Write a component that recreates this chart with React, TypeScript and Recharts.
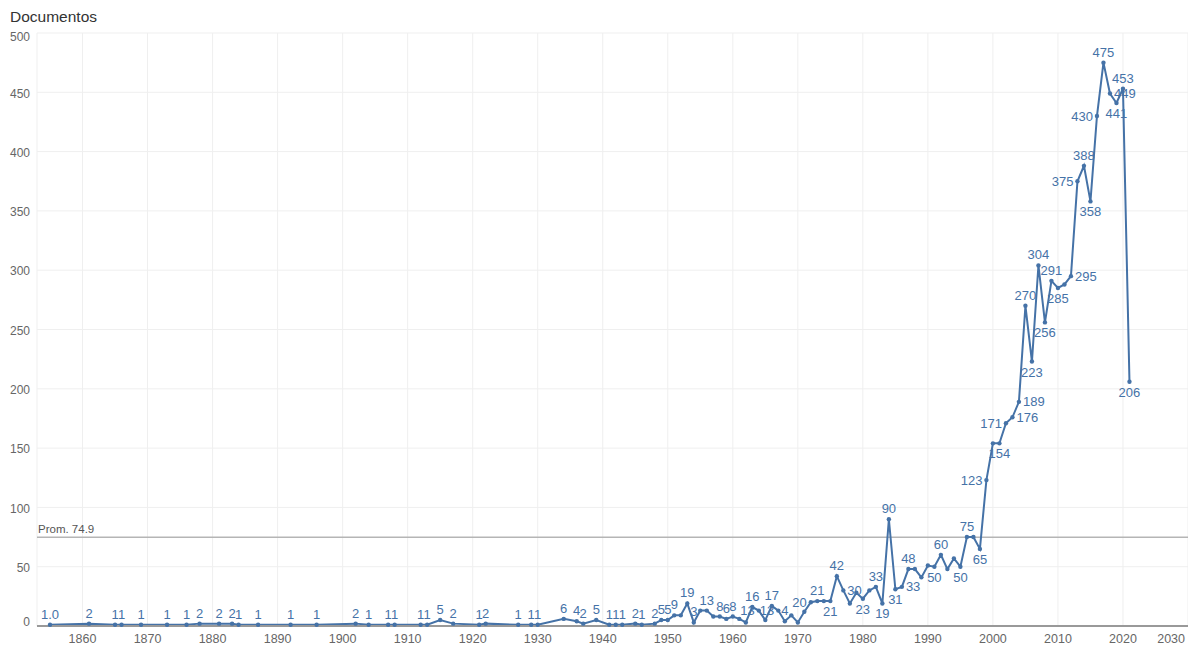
import React from 'react';
import { LineChart, Line, XAxis, YAxis, CartesianGrid, ReferenceLine } from 'recharts';

// ---- data ----
const years = [
  1855, 1861, 1865, 1866, 1869, 1873, 1876, 1878, 1881, 1883, 1884, 1887, 1892, 1896,
  1902, 1904, 1907, 1908, 1912, 1913, 1915, 1917, 1921, 1922, 1927, 1929, 1930, 1934,
  1936, 1937, 1939, 1941, 1942, 1943, 1945, 1946, 1948, 1949,
  1950, 1951, 1952, 1953, 1954, 1955, 1956, 1957, 1958, 1959,
  1960, 1961, 1962, 1963, 1964, 1965, 1966, 1967, 1968, 1969,
  1970, 1971, 1972, 1973, 1974, 1975, 1976, 1977, 1978, 1979,
  1980, 1981, 1982, 1983, 1984, 1985, 1986, 1987, 1988, 1989,
  1990, 1991, 1992, 1993, 1994, 1995, 1996, 1997, 1998, 1999,
  2000, 2001, 2002, 2003, 2004, 2005, 2006, 2007, 2008, 2009,
  2010, 2011, 2012, 2013, 2014, 2015, 2016, 2017, 2018, 2019,
  2020, 2021,
];
const documentos = [
  1, 2, 1, 1, 1, 1, 1, 2, 2, 2, 1, 1, 1, 1,
  2, 1, 1, 1, 1, 1, 5, 2, 1, 2, 1, 1, 1, 6,
  4, 2, 5, 1, 1, 1, 2, 1, 2, 5,
  5, 9, 9, 19, 3, 13, 13, 8, 8, 6,
  8, 6, 3, 16, 13, 5, 17, 13, 4, 9,
  3, 12, 20, 21, 21, 21, 42, 30, 19, 28,
  23, 30, 33, 19, 90, 31, 33, 48, 48, 41,
  51, 50, 60, 48, 57, 50, 75, 75, 65, 123,
  154, 154, 171, 176, 189, 270, 223, 304, 256, 291,
  285, 288, 295, 375, 388, 358, 430, 475, 449, 441,
  453, 206,
];
const xTicks = [1860, 1870, 1880, 1890, 1900, 1910, 1920, 1930, 1940, 1950, 1960, 1970, 1980, 1990, 2000, 2010, 2020, 2030];
const yTicks = [0, 50, 100, 150, 200, 250, 300, 350, 400, 450, 500];
const promedio = 74.9;
const yTitle = 'Documentos';
const promPrefix = 'Prom.';

const data = years.map((year, i) => ({ year, docs: documentos[i] }));

// ---- layout / style ----
const W = 1188;
const H = 648;
const MARGIN = { top: 33, right: 0, bottom: 0, left: 0 };
const YAXIS_W = 37;
const XAXIS_H = 22;
const PLOT_BOTTOM = H - MARGIN.bottom - XAXIS_H;
const LINE_COLOR = '#4572A7';
const FONT = '"Liberation Sans", Arial, Helvetica, sans-serif';
const LABEL_SIZE = 13;
const CHAR_W = 7.2;

type Box = { x0: number; x1: number; y0: number; y1: number };

function placeLabel(points: any[], i: number) {
  const p = points[i];
  const v = documentos[i];
  const prev = i > 0 ? documentos[i - 1] : undefined;
  const next = i < documentos.length - 1 ? documentos[i + 1] : undefined;
  const text = i === 0 ? v.toFixed(1) : String(v);
  const w = text.length * CHAR_W - (text.includes('.') ? 3 : 0) - 1;
  const isMax = (prev === undefined || v >= prev) && (next === undefined || v >= next);
  const isMin = (prev === undefined || v <= prev) && (next === undefined || v <= next);
  let pos: 'above' | 'below' | 'left' | 'right' = 'above';
  const nearBase = p.y + 12 > PLOT_BOTTOM;
  if (i === 0 || nearBase) pos = 'above';
  else if (isMax && !isMin) pos = 'above';
  else if (isMin && !isMax) pos = 'below';
  else if (isMax && isMin) pos = 'above';
  else if (prev !== undefined && next !== undefined && prev < v) {
    pos = v - prev > next - v ? 'left' : 'right';
  } else if (prev !== undefined && next !== undefined) {
    pos = prev - v > v - next ? 'right' : 'left';
  }
  let tx = p.x;
  let ty = p.y - 6;
  let anchor: 'middle' | 'start' | 'end' = 'middle';
  if (pos === 'below') ty = p.y + 15;
  if (pos === 'left') { tx = p.x - 4; ty = p.y + 4.5; anchor = 'end'; }
  if (pos === 'right') { tx = p.x + 4; ty = p.y + 4.5; anchor = 'start'; }
  const x0 = anchor === 'middle' ? tx - w / 2 : anchor === 'start' ? tx : tx - w;
  const box: Box = { x0, x1: x0 + w, y0: ty - 10, y1: ty + 2 };
  return { text, tx, ty, anchor, box };
}

function overlaps(a: Box, b: Box) {
  return a.x0 < b.x1 && b.x0 < a.x1 && a.y0 < b.y1 && b.y0 < a.y1;
}

function renderLabels(points: any[]) {
  const placed = points.map((_, i) => placeLabel(points, i));
  const order = points.map((_, i) => i).sort((a, b) => documentos[b] - documentos[a] || a - b);
  const kept: number[] = [];
  order.forEach((i) => {
    const b = placed[i].box;
    if (kept.every((k) => !overlaps(b, placed[k].box))) kept.push(i);
  });
  kept.sort((a, b) => a - b);
  return kept.map((i) => (
    <text
      key={`lbl-${i}`}
      x={placed[i].tx}
      y={placed[i].ty}
      textAnchor={placed[i].anchor}
      fontSize={LABEL_SIZE}
      fill={LINE_COLOR}
      fontFamily={FONT}
    >
      {placed[i].text}
    </text>
  ));
}

const renderDot = (props: any) => {
  const { cx, cy, index, points } = props;
  const circle = <circle key={`c-${index}`} cx={cx} cy={cy} r={2.2} fill={LINE_COLOR} />;
  if (index !== documentos.length - 1 || !points) return circle;
  return (
    <g key={`c-${index}`}>
      {circle}
      {renderLabels(points)}
    </g>
  );
};

const XTick = (props: any) => {
  const { x, y, payload } = props;
  const last = payload.value === xTicks[xTicks.length - 1];
  return (
    <text
      x={last ? x - 3 : x}
      y={y}
      dy="0.71em"
      textAnchor={last ? 'end' : 'middle'}
      fontSize={12.5}
      fill="#666"
      fontFamily={FONT}
    >
      {payload.value}
    </text>
  );
};

const YTick = (props: any) => {
  const { x, y, payload } = props;
  const first = payload.value === yTicks[0];
  const last = payload.value === yTicks[yTicks.length - 1];
  const shift = first ? -4 : last ? 4 : 1;
  return (
    <text x={x} y={y + shift} dy="0.355em" textAnchor="end" fontSize={12} fill="#666" fontFamily={FONT}>
      {payload.value}
    </text>
  );
};

const PromLabel = (props: any) => {
  const { viewBox } = props;
  return (
    <text x={viewBox.x + 1} y={viewBox.y - 4} fontSize={11.5} fill="#555" fontFamily={FONT}>
      {`${promPrefix} ${promedio}`}
    </text>
  );
};

export default function App() {
  return (
    <div style={{ position: 'absolute', left: 0, top: 0, width: W, height: H, background: '#fff', fontFamily: FONT, overflow: 'hidden' }}>
      <div style={{ position: 'absolute', left: 10, top: 7, fontSize: 15.5, color: '#333', lineHeight: '20px' }}>{yTitle}</div>
      <LineChart width={W} height={H} data={data} margin={MARGIN}>
        <CartesianGrid stroke="#efefef" strokeWidth={1} />
        <XAxis
          dataKey="year"
          type="number"
          domain={[1853, 2030]}
          ticks={xTicks}
          interval={0}
          height={XAXIS_H}
          tickLine={false}
          tickSize={6}
          tickMargin={2}
          axisLine={{ stroke: '#999', strokeWidth: 2 }}
          tick={<XTick />}
          allowDataOverflow
        />
        <YAxis
          type="number"
          domain={[0, 500]}
          ticks={yTicks}
          interval={0}
          width={YAXIS_W}
          axisLine={false}
          tickLine={false}
          tickSize={5}
          tickMargin={2}
          tick={<YTick />}
        />
        <ReferenceLine y={promedio} stroke="#b5b5b5" strokeWidth={1.5} label={<PromLabel />} />
        <Line
          type="linear"
          dataKey="docs"
          stroke={LINE_COLOR}
          strokeWidth={2}
          dot={renderDot}
          activeDot={false}
          isAnimationActive={false}
        />
      </LineChart>
    </div>
  );
}
